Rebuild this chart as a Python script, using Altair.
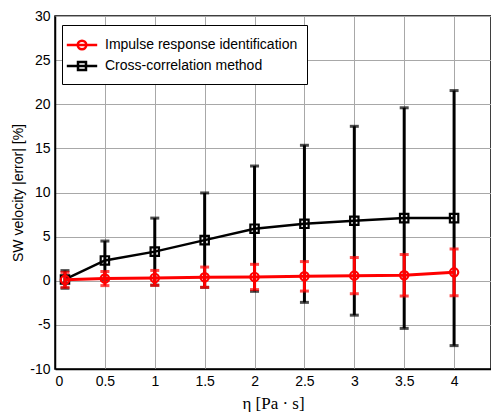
import altair as alt
import pandas as pd

# ---- data ----
eta = [0.1, 0.5, 1.0, 1.5, 2.0, 2.5, 3.0, 3.5, 4.0]

series_names = ["Impulse response identification", "Cross-correlation method"]

red_mean = [0.10, 0.25, 0.32, 0.40, 0.43, 0.50, 0.58, 0.62, 0.95]
red_err = [0.85, 0.80, 0.85, 1.15, 1.43, 1.67, 2.05, 2.35, 2.65]

black_mean = [0.15, 2.30, 3.30, 4.60, 5.90, 6.45, 6.80, 7.10, 7.10]
black_err = [1.00, 2.20, 3.80, 5.35, 7.10, 8.90, 10.70, 12.50, 14.45]

x_ticks = [0, 0.5, 1, 1.5, 2, 2.5, 3, 3.5, 4]
y_ticks = [-10, -5, 0, 5, 10, 15, 20, 25, 30]

colors = ["#ff0000", "#000000"]
legend_shapes = [
    "M-1.6,0H1.6M0.45,0A0.45,0.45 0 1,1 -0.45,0A0.45,0.45 0 1,1 0.45,0",
    "M-1.6,0H1.6M-0.42,-0.42H0.42V0.42H-0.42Z",
]


def frame(mean, err, name):
    return pd.DataFrame({
        "eta": eta,
        "mean": mean,
        "lo": [m - e for m, e in zip(mean, err)],
        "hi": [m + e for m, e in zip(mean, err)],
        "series": name,
    })


red = frame(red_mean, red_err, series_names[0])
black = frame(black_mean, black_err, series_names[1])
both = pd.concat([red, black], ignore_index=True)

xscale = alt.Scale(domain=[0, 4.37], nice=False, zero=False)
yscale = alt.Scale(domain=[-10, 30], nice=False, zero=False)

x_enc = alt.X("eta:Q", scale=xscale,
              axis=alt.Axis(values=x_ticks, title="η [Pa · s]",
                            labelExpr="'' + datum.value",
                            titleFont="Liberation Serif", titleFontSize=17,
                            titleFontWeight="normal", titlePadding=7))
y_axis = alt.Axis(values=y_ticks, title="SW velocity |error| [%]",
                  labelExpr="'' + datum.value", titlePadding=4)

color_scale = alt.Scale(domain=series_names, range=colors)


def layers(df, color, shape, line_w, pt_size):
    base = alt.Chart(df)
    rule = base.mark_rule(color=color, strokeWidth=3).encode(
        x=x_enc, y=alt.Y("lo:Q", scale=yscale, axis=y_axis), y2="hi:Q")
    cap_lo = base.mark_tick(color=color, orient="horizontal", size=9, thickness=3).encode(
        x="eta:Q", y="lo:Q")
    cap_hi = base.mark_tick(color=color, orient="horizontal", size=9, thickness=3).encode(
        x="eta:Q", y="hi:Q")
    line = base.mark_line(color=color, strokeWidth=line_w).encode(
        x="eta:Q", y="mean:Q")
    pts = base.mark_point(color=color, shape=shape, filled=False, strokeWidth=2.2,
                          size=pt_size, opacity=1).encode(x="eta:Q", y="mean:Q")
    return [rule, cap_lo, cap_hi, line, pts]


legend_props = dict(title=None, orient="none", legendX=7, legendY=9,
                    strokeColor="black", fillColor="white",
                    padding=9, labelFontSize=14, labelOffset=12,
                    labelFont="Liberation Sans", labelColor="black",
                    rowPadding=0, symbolStrokeWidth=2.5, symbolSize=361,
                    symbolOpacity=1, labelLimit=300)

legend_layer = alt.Chart(both).mark_point(clip=True, filled=False, size=361,
                                          strokeWidth=2.5, opacity=1).encode(
    x="eta:Q",
    y=alt.value(-2000),
    color=alt.Color("series:N", scale=color_scale, legend=alt.Legend(**legend_props)),
    shape=alt.Shape("series:N", scale=alt.Scale(domain=series_names, range=legend_shapes),
                    legend=alt.Legend(**legend_props)),
)

all_layers = layers(black, "#000000", "square", 2.5, 70) + \
    layers(red, "#ff0000", "circle", 3, 70) + [legend_layer]

chart = alt.layer(*all_layers).properties(
    width=436, height=353,
    autosize=alt.AutoSizeParams(type="none"),
    padding={"left": 47, "top": 8, "right": 0, "bottom": 43},
).configure_view(
    stroke="black", strokeWidth=1.5
).configure_axis(
    labelFont="Liberation Sans", labelFontSize=14, labelColor="black",
    titleFont="Liberation Sans", titleFontSize=14, titleFontWeight="normal",
    titleColor="black",
    domainColor="black", domainWidth=1.5, gridColor="#a8a8a8", gridWidth=1,
    gridOpacity=1, ticks=False, labelPadding=5,
).configure_legend(
    symbolOpacity=1
)

chart.save("out.html", embed_options={"renderer": "svg", "actions": False})
